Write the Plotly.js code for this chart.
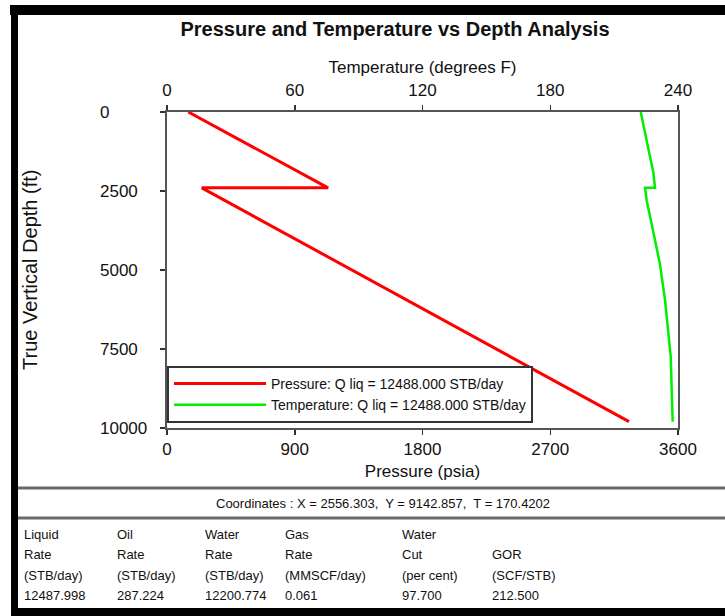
<!DOCTYPE html>
<html>
<head>
<meta charset="utf-8">
<script src="https://cdn.plot.ly/plotly-3.0.1.min.js"></script>
<style>html,body{margin:0;padding:0;background:#fff;}#chart{width:725px;height:616px;}</style>
</head>
<body>
<div id="chart"></div>
<script>
// ---- data ----
const pressureDepth = [0, 2400, 2400, 9800];
const pressurePsia = [150, 1135, 245, 3255];
const temperatureDepth = [0, 700, 1400, 1900, 2400, 2400, 2800, 3800, 4800, 5950, 7000, 7750, 8700, 9800];
const temperatureF = [222.5, 224.5, 226.8, 228.4, 229.2, 224.5, 225.3, 228.4, 231.5, 233.9, 235.4, 236.6, 237.0, 237.5];
const pressureTicks = [0, 900, 1800, 2700, 3600];
const temperatureTicks = [0, 60, 120, 180, 240];
const depthTicks = [0, 2500, 5000, 7500, 10000];
const pressureName = "Pressure: Q liq = 12488.000 STB/day";
const temperatureName = "Temperature: Q liq = 12488.000 STB/day";
const coordinatesText = "Coordinates : X = 2556.303,&nbsp; Y = 9142.857,&nbsp; T = 170.4202";
const tableHeader1 = ["Liquid", "Oil", "Water", "Gas", "Water", ""];
const tableHeader2 = ["Rate", "Rate", "Rate", "Rate", "Cut", "GOR"];
const tableUnits = ["(STB/day)", "(STB/day)", "(STB/day)", "(MMSCF/day)", "(per cent)", "(SCF/STB)"];
const tableValues = ["12487.998", "287.224", "12200.774", "0.061", "97.700", "212.500"];

// ---- layout helpers (pixel -> paper) ----
const W = 725, H = 616;
const PL = 167, PR = 678, PT = 112, PB = 428;
const px = p => (p - PL) / (PR - PL);
const py = p => (PB - p) / (PB - PT);
const FONT = "Liberation Sans, Arial, Helvetica, sans-serif";
const colX = [22, 115, 203, 283, 400, 490];
const rowY = [534, 554, 575, 595];

const traces = [
  {x: pressurePsia, y: pressureDepth, xaxis: 'x', yaxis: 'y', type: 'scatter', mode: 'lines',
   name: pressureName, line: {color: '#ff0000', width: 3}},
  {x: temperatureF, y: temperatureDepth, xaxis: 'x2', yaxis: 'y', type: 'scatter', mode: 'lines',
   name: temperatureName, line: {color: '#00ee00', width: 2.5}}
];

const annotations = [];
depthTicks.forEach(v => annotations.push({
  x: px(98), xref: 'paper', y: v, yref: 'y', text: String(v), showarrow: false,
  xanchor: 'left', yanchor: 'middle', font: {family: FONT, size: 17, color: '#111'}
}));
annotations.push({
  x: px(30), xref: 'paper', y: py(270), yref: 'paper', text: 'True Vertical Depth (ft)',
  textangle: -90, showarrow: false, xanchor: 'center', yanchor: 'middle',
  font: {family: FONT, size: 20, color: '#111'}
});
annotations.push({
  x: px(383), xref: 'paper', y: py(503), yref: 'paper', text: coordinatesText, showarrow: false,
  xanchor: 'center', yanchor: 'middle', font: {family: FONT, size: 13, color: '#111'}
});
const rows = [tableHeader1, tableHeader2, tableUnits, tableValues];
rows.forEach((row, r) => row.forEach((t, c) => {
  if (!t) return;
  annotations.push({
    x: px(colX[c]), xref: 'paper', y: py(rowY[r]), yref: 'paper', text: t, showarrow: false,
    xanchor: 'left', yanchor: 'middle', font: {family: FONT, size: 13, color: '#111'}
  });
}));

const shapes = [
  {type: 'rect', xref: 'paper', yref: 'paper', x0: px(10), x1: px(735), y0: py(15), y1: py(5), fillcolor: '#000', line: {width: 0}, layer: 'above'},
  {type: 'rect', xref: 'paper', yref: 'paper', x0: px(11), x1: px(18), y0: py(625), y1: py(5), fillcolor: '#000', line: {width: 0}, layer: 'above'},
  {type: 'rect', xref: 'paper', yref: 'paper', x0: px(11), x1: px(735), y0: py(625), y1: py(608), fillcolor: '#000', line: {width: 0}, layer: 'above'},
  {type: 'line', xref: 'paper', yref: 'paper', x0: px(18), x1: px(735), y0: py(488), y1: py(488), line: {color: '#6a6a6a', width: 3}},
  {type: 'line', xref: 'paper', yref: 'paper', x0: px(18), x1: px(735), y0: py(518), y1: py(518), line: {color: '#6a6a6a', width: 3}}
];

const axisCommon = {
  showgrid: false, zeroline: false, showline: true, linecolor: '#555', linewidth: 2,
  ticks: 'outside', ticklen: 5, tickwidth: 1.5, tickcolor: '#333',
  tickfont: {family: FONT, size: 17, color: '#111'}
};

const layout = {
  width: W, height: H,
  margin: {l: PL, r: W - PR, t: PT, b: H - PB, pad: 0},
  paper_bgcolor: '#fff', plot_bgcolor: '#fff',
  font: {family: FONT, color: '#111'},
  title: {text: '<b>Pressure and Temperature vs Depth Analysis</b>', x: 395 / W, xanchor: 'center',
          y: 1 - 29 / H, yanchor: 'middle', xref: 'container', yref: 'container',
          font: {family: FONT, size: 20, color: '#111'}},
  xaxis: Object.assign({}, axisCommon, {
    range: [0, 3600], tickmode: 'array', tickvals: pressureTicks, ticktext: pressureTicks.map(String),
    ticklabelstandoff: 0,
    title: {text: 'Pressure (psia)', font: {family: FONT, size: 17, color: '#111'}, standoff: 7}
  }),
  xaxis2: Object.assign({}, axisCommon, {
    range: [0, 240], overlaying: 'x', side: 'top', anchor: 'y', tickmode: 'array',
    tickvals: temperatureTicks, ticktext: temperatureTicks.map(String), ticklabelstandoff: 2,
    title: {text: 'Temperature (degrees F)', font: {family: FONT, size: 17, color: '#111'}, standoff: 3}
  }),
  yaxis: Object.assign({}, axisCommon, {
    range: [10000, 0], tickmode: 'array', tickvals: depthTicks, showticklabels: false, mirror: true
  }),
  showlegend: true,
  legend: {x: 0, xanchor: 'left', y: py(423), yanchor: 'bottom', bgcolor: '#fff',
           bordercolor: '#333', borderwidth: 2, itemwidth: 92, tracegroupgap: 0,
           font: {family: FONT, size: 14, color: '#111'}},
  annotations: annotations,
  shapes: shapes
};

Plotly.newPlot('chart', traces, layout, {staticPlot: true, displayModeBar: false});
</script>
</body>
</html>
